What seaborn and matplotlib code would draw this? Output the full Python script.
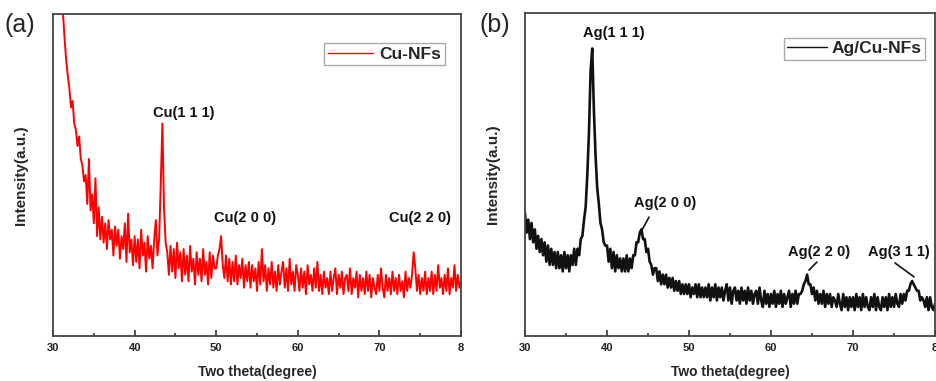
"""XRD patterns of Cu-NFs (a) and Ag/Cu-NFs (b)"""

import numpy as np
import pandas as pd
import matplotlib.pyplot as plt
from matplotlib.ticker import MultipleLocator
import seaborn as sns

# 2-theta sampling grid, 30 to 80 deg in 0.2 deg steps
two_theta = np.round(np.arange(30, 80.01, 0.2), 1)

# Intensities (arbitrary units, 0 = axis bottom, 100 = axis top)
cu_nfs = [
    150, 143, 136, 128, 121, 112, 101, 93, 86, 81,
    77, 71, 73, 66, 64, 59, 62, 55, 53, 48,
    50, 41, 55, 39, 44, 35, 49, 31, 40, 30,
    37, 29, 35, 27, 36, 30, 33, 25, 34, 28,
    33, 24, 31, 27, 35, 23, 38, 26, 30, 22,
    31, 23, 30, 21, 33, 25, 29, 20, 31, 24,
    28, 21, 30, 36, 25, 30, 47, 66, 40, 29,
    26, 19, 28, 20, 27, 18, 29, 21, 26, 17,
    27, 19, 25, 17, 28, 20, 24, 16, 26, 19,
    24, 17, 27, 19, 23, 16, 26, 18, 25, 21,
    21, 25, 27, 31, 22, 18, 25, 17, 24, 16,
    23, 17, 25, 16, 22, 18, 24, 15, 22, 17,
    23, 15, 22, 17, 21, 14, 23, 16, 27, 17,
    22, 14, 21, 16, 23, 15, 20, 14, 22, 16,
    20, 23, 15, 21, 14, 24, 16, 20, 14, 22,
    19, 14, 21, 15, 20, 13, 22, 16, 19, 14,
    21, 15, 23, 14, 19, 13, 20, 15, 18, 13,
    20, 14, 18, 21, 13, 19, 15, 20, 13, 18,
    19, 14, 21, 13, 18, 15, 20, 12, 19, 14,
    18, 13, 20, 14, 19, 12, 18, 15, 13, 19,
    14, 21, 15, 12, 19, 14, 18, 13, 20, 14,
    18, 13, 19, 14, 17, 12, 20, 14, 18, 15,
    19, 26, 21, 14, 19, 13, 18, 14, 20, 13,
    18, 14, 20, 13, 19, 14, 22, 15, 18, 13,
    19, 14, 21, 13, 18, 15, 22, 14, 19, 15,
    17,
]

ag_cu_nfs = [
    38, 32, 36, 30, 35, 29, 33, 27, 31, 26,
    30, 25, 29, 23, 28, 22, 27, 22, 26, 21,
    26, 21, 25, 20, 26, 21, 25, 20, 25, 22,
    27, 22, 27, 25, 30, 31, 36, 40, 50, 63,
    82, 89, 70, 56, 46, 41, 35, 33, 29, 28,
    28, 23, 27, 21, 26, 20, 25, 21, 24, 20,
    24, 20, 25, 20, 24, 21, 25, 25, 29, 29,
    32, 33, 30, 30, 26, 27, 23, 22, 19, 21,
    21, 17, 20, 16, 19, 16, 19, 15, 18, 15,
    18, 14, 17, 14, 17, 13, 16, 13, 16, 13,
    16, 12, 15, 13, 16, 12, 16, 12, 15, 12,
    15, 12, 16, 11, 15, 12, 16, 11, 15, 12,
    15, 11, 14, 16, 11, 15, 10, 14, 15, 11,
    14, 10, 15, 11, 14, 10, 15, 11, 14, 10,
    13, 14, 10, 15, 11, 9, 14, 10, 13, 9,
    13, 10, 14, 9, 13, 10, 14, 9, 13, 10,
    12, 14, 9, 13, 10, 14, 10, 13, 13, 14,
    16, 17, 19, 16, 16, 13, 15, 11, 14, 10,
    13, 10, 14, 9, 13, 10, 13, 9, 12, 11,
    9, 13, 10, 8, 13, 9, 12, 8, 12, 9,
    12, 8, 13, 9, 12, 8, 13, 9, 12, 9,
    8, 12, 9, 13, 8, 12, 9, 8, 12, 9,
    12, 8, 13, 9, 12, 9, 13, 10, 9, 13,
    10, 13, 11, 14, 14, 16, 17, 16, 15, 14,
    14, 11, 12, 11, 9, 12, 8, 12, 9, 8,
    10,
]

tick_values = [30, 40, 50, 60, 70, 80]
tick_labels = ["30", "40", "50", "60", "70", "8"]

cu_peaks = ["Cu(1 1 1)", "Cu(2 0 0)", "Cu(2 2 0)"]
ag_peaks = ["Ag(1 1 1)", "Ag(2 0 0)", "Ag(2 2 0)", "Ag(3 1 1)"]

sns.set_style("ticks")
plt.rcParams['font.family'] = ['Liberation Sans', 'DejaVu Sans']

fig = plt.figure(figsize=(9.37, 3.81), dpi=100)
ax1 = fig.add_axes([0.0566, 0.1181, 0.4354, 0.845])
ax2 = fig.add_axes([0.5603, 0.1181, 0.4376, 0.848])

df_a = pd.DataFrame({'two_theta': two_theta, 'intensity': cu_nfs})
df_b = pd.DataFrame({'two_theta': two_theta, 'intensity': ag_cu_nfs})

sns.lineplot(data=df_a, x='two_theta', y='intensity', ax=ax1,
             color='#ff0000', lw=1.4, label='Cu-NFs')
sns.lineplot(data=df_b, x='two_theta', y='intensity', ax=ax2,
             color='#111111', lw=1.9, label='Ag/Cu-NFs')

# Common axis styling
for ax in (ax1, ax2):
    ax.set_xlim(30, 80)
    ax.set_ylim(0, 100)
    ax.set_xticks(tick_values)
    ax.set_xticklabels(tick_labels, fontsize=8, fontweight='bold', color='#222222')
    ax.xaxis.set_minor_locator(MultipleLocator(5))
    ax.tick_params(axis='x', which='major', direction='in', length=4, width=1.2,
                   pad=5, color='#333333')
    ax.tick_params(axis='x', which='minor', direction='in', length=2.5, width=1.2,
                   color='#333333')
    ax.tick_params(axis='y', left=False, labelleft=False)
    for s in ax.spines.values():
        s.set_color('#444444')
        s.set_linewidth(1.3)
    ax.set_xlabel("Two theta(degree)", fontsize=10, fontweight='bold')
    ax.set_ylabel("Intensity(a.u.)", fontsize=11, fontweight='bold')
    ax.xaxis.set_label_coords(0.5, -0.09)
    ax.yaxis.set_label_coords(-0.061, 0.5)

# Legends (thin line in the key, as in the original)
for ax, anchor, hl, tp in ((ax1, (0.961, 0.91), 2.6, 0.4),
                           (ax2, (0.976, 0.923), 2.3, 0.25)):
    leg = ax.legend(loc='upper right', bbox_to_anchor=anchor, borderaxespad=0,
                    fancybox=False, edgecolor='#aaaaaa', framealpha=1,
                    prop={'weight': 'bold', 'size': 12.5}, handlelength=hl,
                    handletextpad=tp, borderpad=0.2)
    for h in leg.get_lines():
        h.set_linewidth(1.0)

# Peak labels, panel (a)
lbl = dict(fontsize=10.5, fontweight='bold', ha='center', va='center', color='#111111')
ax1.text(46.05, 69.3, cu_peaks[0], **lbl)
ax1.text(53.5, 36.6, cu_peaks[1], **lbl)
ax1.text(75.0, 36.6, cu_peaks[2], **lbl)

# Peak labels and leader lines, panel (b)
ax2.text(40.85, 93.8, ag_peaks[0], **lbl)
ax2.text(47.07, 41.2, ag_peaks[1], **lbl)
ax2.text(65.85, 26.0, ag_peaks[2], **lbl)
ax2.text(75.6, 26.0, ag_peaks[3], **lbl)
ax2.plot([45.12, 44.27], [36.8, 32.8], color='#111111', lw=1.2)
ax2.plot([65.6, 64.63], [22.9, 20.4], color='#111111', lw=1.2)
ax2.plot([75.12, 77.44], [22.6, 18.3], color='#111111', lw=1.2)

# Panel letters
fig.text(0.005, 0.934, "(a)", fontsize=18, va='center', ha='left')
fig.text(0.512, 0.934, "(b)", fontsize=18, va='center', ha='left')

fig.savefig("out.png", dpi=100)
